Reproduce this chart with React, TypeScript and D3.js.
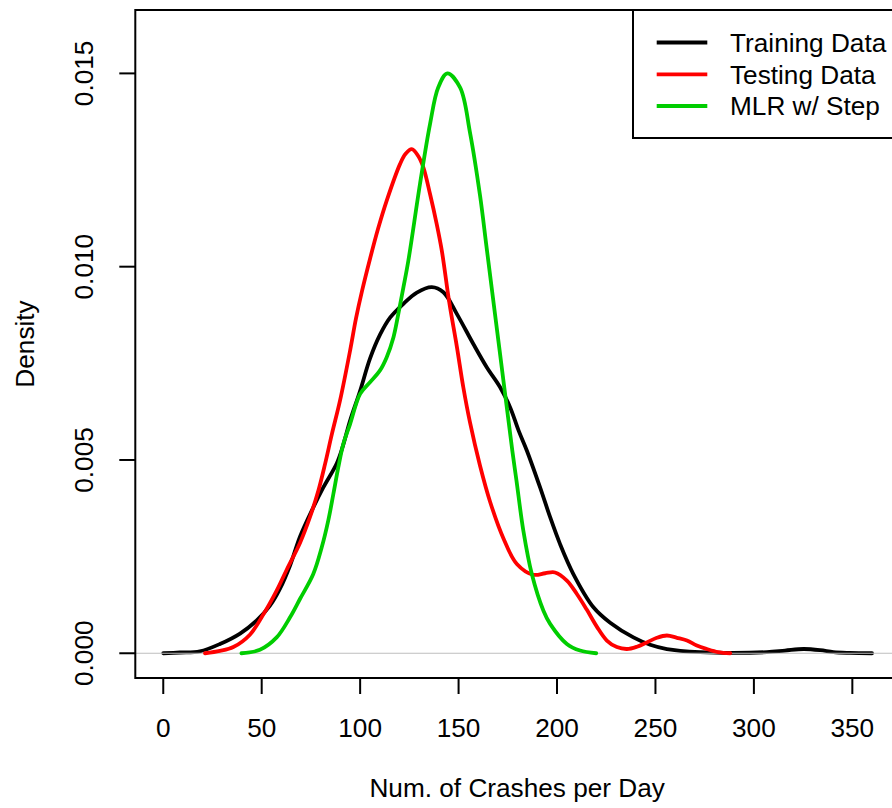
import React from "react";
import * as d3 from "d3";

// ---- Data (x = crashes per day, y = density) ----
const trainingDensity: [number, number][] = [
  [0, 0], [8.5, 0.00002], [18.6, 0.00005], [28.8, 0.00024], [39, 0.00051], [47.5, 0.00085],
  [54.2, 0.00123], [59.3, 0.00167], [64.4, 0.00227], [69.5, 0.00302], [76.2, 0.00377],
  [81.3, 0.00429], [88.1, 0.00491], [91.3, 0.00537], [94.9, 0.00602], [100, 0.00679],
  [105, 0.00762], [110.1, 0.00824], [115.2, 0.00868], [122, 0.00904], [128.8, 0.00933],
  [136.4, 0.00947], [142.3, 0.00934], [149.1, 0.00878], [157.5, 0.008], [164.3, 0.0074],
  [171.1, 0.00688], [176.2, 0.00636], [180.5, 0.00576], [184.7, 0.00524], [191.4, 0.00429],
  [196.5, 0.00352], [201.5, 0.00283], [208.3, 0.00205], [218.5, 0.00119], [227, 0.00079],
  [238.8, 0.00041], [247.3, 0.00022], [255.8, 0.00011], [272.7, 0.00003], [289.5, 0.00001],
  [306.6, 0.00003], [315.8, 0.00007], [325.2, 0.00011], [333.7, 0.00008], [340.4, 0.00003],
  [348.8, 0.00001], [360, 0],
];

const testingDensity: [number, number][] = [
  [21.2, 0], [28.8, 0.00006], [35.6, 0.00016], [44, 0.00048], [50.8, 0.001], [57.6, 0.00162],
  [62.7, 0.00216], [69.5, 0.00286], [74.5, 0.00352], [78.8, 0.00421], [82.2, 0.0049],
  [85.7, 0.00568], [89.8, 0.00654], [94.9, 0.00783], [97.9, 0.00866], [101, 0.00938],
  [105, 0.0102], [109.1, 0.01098], [113.5, 0.01171], [120.3, 0.01266], [123.1, 0.01292],
  [126.2, 0.01304], [129.4, 0.01287], [132.1, 0.01257], [135.5, 0.01188], [138.9, 0.0111],
  [141.5, 0.01041], [145.3, 0.00907], [149.1, 0.00794], [152.4, 0.00688], [155.8, 0.00597],
  [160.9, 0.00485], [166, 0.00392], [172.8, 0.00297], [179.6, 0.00231], [188, 0.00203],
  [194, 0.00207], [199, 0.00209], [205, 0.00188], [210, 0.00154], [215.1, 0.00113],
  [220.2, 0.00069], [225.3, 0.00033], [230.4, 0.00016], [235.5, 0.00011], [240.6, 0.00017],
  [245.6, 0.00028], [250.7, 0.0004], [255.8, 0.00046], [260.9, 0.0004], [266, 0.00033],
  [271, 0.0002], [276.1, 0.00011], [281.8, 0.00003], [288, 0],
];

const mlrDensity: [number, number][] = [
  [39.7, 0], [49.1, 0.00009], [57.6, 0.00041], [64.4, 0.00093], [69.5, 0.00141],
  [76.2, 0.00205], [80.5, 0.00274], [83.8, 0.00343], [86.4, 0.00412], [88.9, 0.00481],
  [91.5, 0.00542], [94.9, 0.00593], [100, 0.00671], [105, 0.00701], [110, 0.00731],
  [113.5, 0.00766], [116.9, 0.00817], [119.4, 0.00878], [122, 0.00947], [124.5, 0.01016],
  [130.4, 0.01214], [135.5, 0.01369], [139.7, 0.01464], [144.3, 0.015], [150.8, 0.01463],
  [155.8, 0.01347], [160.9, 0.01184], [164.3, 0.01047], [170.8, 0.00785], [177.3, 0.00524],
  [179.4, 0.00447], [182.9, 0.00317], [187.2, 0.00205], [193.1, 0.0011], [196.5, 0.00076],
  [205, 0.00024], [211.7, 0.00007], [219.9, 0],
];

const xTicks = [0, 50, 100, 150, 200, 250, 300, 350];
const yTicks = [0, 0.005, 0.01, 0.015];
const yTickLabels = ["0.000", "0.005", "0.010", "0.015"];
const legendLabels = ["Training Data", "Testing Data", "MLR w/ Step"];
const seriesColors = ["#000000", "#FF0000", "#00CD00"];

const FONT = "'Liberation Sans', Arial, Helvetica, sans-serif";
const FS = 26.2;

export default function App() {
  const left = 135.3, right = 899, top = 10, bottom = 678;
  const x = d3.scaleLinear().domain([-14.2, 373.7]).range([left, right]);
  const y = d3.scaleLinear().domain([-0.00064, 0.01664]).range([bottom, top]);
  const line = d3
    .line<[number, number]>()
    .x((d) => x(d[0]))
    .y((d) => y(d[1]))
    .curve(d3.curveCatmullRom.alpha(0.5));

  const series = [trainingDensity, testingDensity, mlrDensity];
  const lw = 3.8;

  const legX0 = 633, legY0 = top, legRowY = [42.5, 74.3, 106];

  return (
    <svg
      width={892}
      height={808}
      style={{ position: "absolute", left: 0, top: 0, background: "#fff" }}
      fontFamily={FONT}
    >
      <rect x={0} y={0} width={892} height={808} fill="#fff" />
      {/* training curve */}
      <path d={line(series[0]) || ""} fill="none" stroke={seriesColors[0]} strokeWidth={lw} strokeLinejoin="round" strokeLinecap="round" />
      {/* zero line */}
      <line x1={left} x2={right} y1={y(0)} y2={y(0)} stroke="#BEBEBE" strokeWidth={1.2} />
      {/* other curves */}
      {[1, 2].map((i) => (
        <path key={i} d={line(series[i]) || ""} fill="none" stroke={seriesColors[i]} strokeWidth={lw} strokeLinejoin="round" strokeLinecap="round" />
      ))}
      {/* box */}
      <rect x={left} y={top} width={right - left} height={bottom - top} fill="none" stroke="#000" strokeWidth={2} />
      {/* x axis ticks */}
      {xTicks.map((t) => (
        <g key={t}>
          <line x1={x(t)} x2={x(t)} y1={bottom} y2={bottom + 16} stroke="#000" strokeWidth={2} />
          <text x={x(t)} y={736.7} textAnchor="middle" fontSize={FS} fill="#000">
            {t}
          </text>
        </g>
      ))}
      {/* y axis ticks */}
      {yTicks.map((t, i) => (
        <g key={t}>
          <line x1={left - 16} x2={left} y1={y(t)} y2={y(t)} stroke="#000" strokeWidth={2} />
          <text
            transform={`translate(93, ${y(t)}) rotate(-90)`}
            textAnchor="middle"
            fontSize={FS}
            fill="#000"
          >
            {yTickLabels[i]}
          </text>
        </g>
      ))}
      {/* axis titles */}
      <text x={(left + right) / 2} y={796.7} textAnchor="middle" fontSize={FS} fill="#000">
        Num. of Crashes per Day
      </text>
      <text transform={`translate(34, ${(top + bottom) / 2}) rotate(-90)`} textAnchor="middle" fontSize={FS} fill="#000">
        Density
      </text>
      {/* legend */}
      <rect x={legX0} y={legY0} width={right - legX0} height={138 - legY0} fill="#fff" stroke="#000" strokeWidth={2} />
      {legendLabels.map((lab, i) => (
        <g key={lab}>
          <line x1={656.7} x2={707.3} y1={legRowY[i]} y2={legRowY[i]} stroke={seriesColors[i]} strokeWidth={lw} />
          <text x={730} y={legRowY[i] + 9.4} fontSize={FS} fill="#000">
            {lab}
          </text>
        </g>
      ))}
    </svg>
  );
}
